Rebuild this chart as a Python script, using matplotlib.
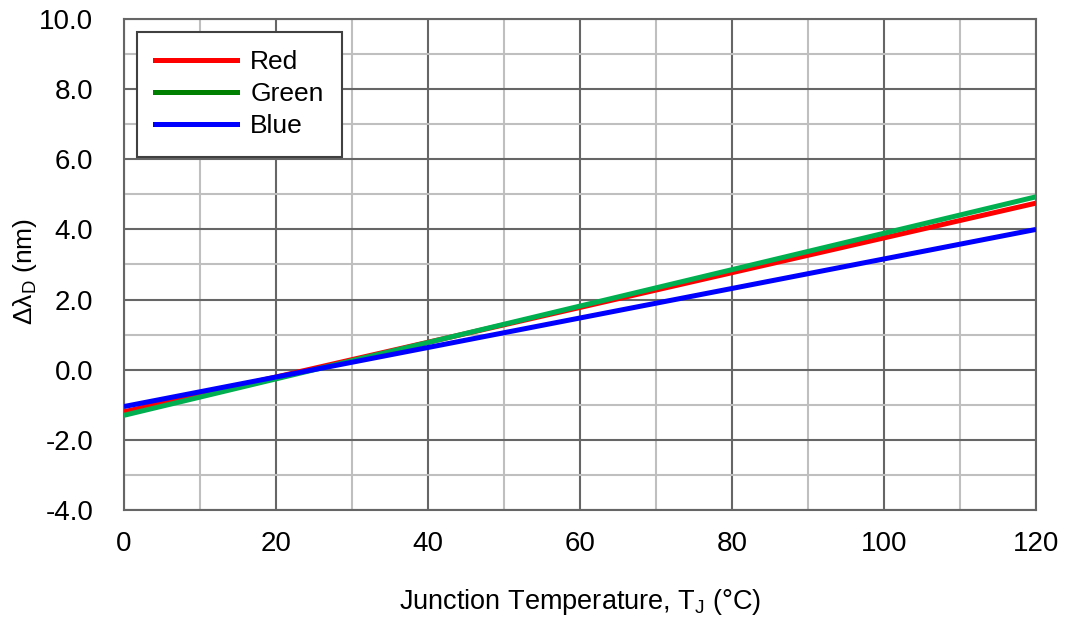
import matplotlib.pyplot as plt
from matplotlib.lines import Line2D
from matplotlib.ticker import MultipleLocator, FormatStrFormatter

plt.rcParams['font.family'] = ['Liberation Sans', 'DejaVu Sans']
plt.rcParams['mathtext.fontset'] = 'custom'
plt.rcParams['mathtext.rm'] = 'Liberation Sans'

# data (straight lines, end points)
temp = [0, 120]
red = [-1.2, 4.75]
green = [-1.3, 4.93]
blue = [-1.05, 4.0]

fig = plt.figure(figsize=(10.65, 6.2), dpi=100)
ax = fig.add_axes([0.1164, 0.1774, 0.8564, 0.792])

ax.plot(temp, red, color='#ff0000', lw=3.6, solid_capstyle='butt', zorder=3)
ax.plot(temp, green, color='#00b050', lw=3.6, solid_capstyle='butt', zorder=3)
ax.plot(temp, blue, color='#0000ff', lw=3.6, solid_capstyle='butt', zorder=4)

ax.set_xlim(0, 120)
ax.set_ylim(-4, 10)
ax.xaxis.set_major_locator(MultipleLocator(20))
ax.xaxis.set_minor_locator(MultipleLocator(10))
ax.yaxis.set_major_locator(MultipleLocator(2))
ax.yaxis.set_minor_locator(MultipleLocator(1))
ax.yaxis.set_major_formatter(FormatStrFormatter('%.1f'))

ax.grid(which='minor', color='#bfbfbf', lw=1.5)
ax.grid(which='major', color='#666666', lw=1.5)
ax.set_axisbelow(True)
for s in ax.spines.values():
    s.set_color('#666666')
    s.set_linewidth(1.5)

ax.tick_params(which='both', length=0, labelsize=20)
ax.tick_params(axis='x', pad=15)
ax.tick_params(axis='y', pad=22)

ax.set_xlabel('Junction Temperature, T$_\\mathregular{J}$ (\u00b0C)', fontsize=19.5, labelpad=22)
ax.set_ylabel('\u0394\u03bb$_\\mathregular{D}$ (nm)', fontsize=19)
ax.yaxis.set_label_coords(-0.093, 0.485)

handles = [Line2D([], [], color='#ff0000', lw=3.6),
           Line2D([], [], color='#008000', lw=3.6),
           Line2D([], [], color='#0000ff', lw=3.6)]
leg = ax.legend(handles, ['Red', 'Green', 'Blue'], loc='upper left',
                bbox_to_anchor=(0.014, 0.974), fontsize=19, fancybox=False,
                framealpha=1, edgecolor='#404040', handlelength=3.1,
                handletextpad=0.5, labelspacing=0.3, borderpad=0.7,
                borderaxespad=0)
leg.get_frame().set_linewidth(1.5)

fig.savefig('out.png', dpi=100)
